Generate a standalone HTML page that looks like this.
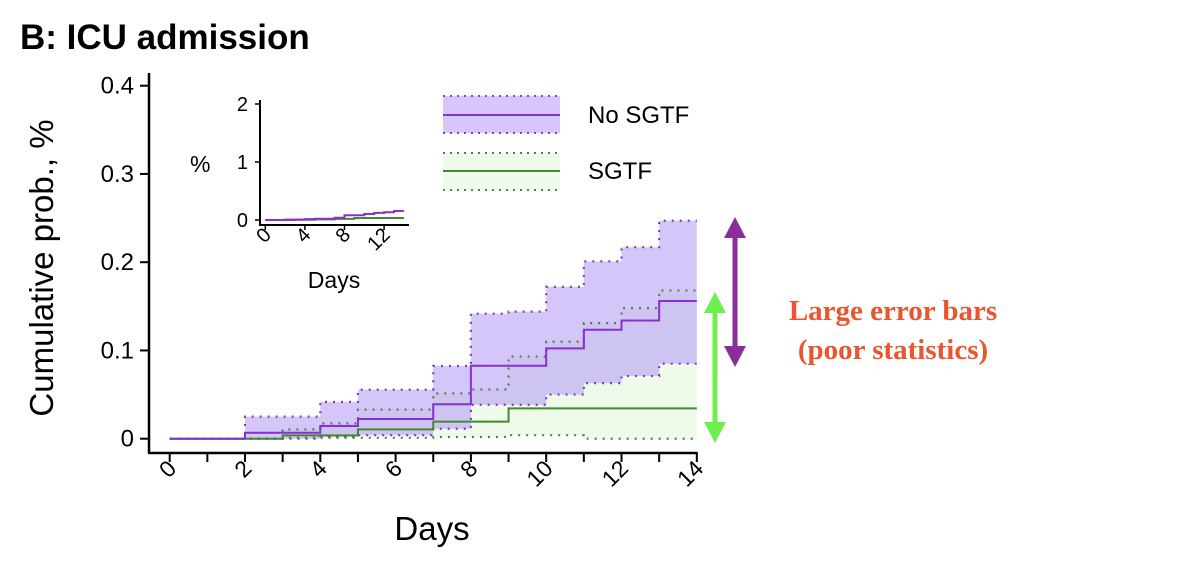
<!DOCTYPE html>
<html><head><meta charset="utf-8"><style>
body{margin:0;background:#fff;width:1200px;height:568px;overflow:hidden;font-family:"Liberation Sans",sans-serif}
</style></head><body>
<svg id="c" width="1200" height="568" xmlns="http://www.w3.org/2000/svg">
<text x="20" y="49" font-size="35" font-weight="bold" font-family="Liberation Sans, sans-serif">B: ICU admission</text>
<g id="main"></g>
<g id="inset"></g>
<g>
<g>
<rect x="443" y="96" width="117" height="37" fill="#d6c6fb"/>
<line x1="443" y1="96" x2="560" y2="96" stroke="#8a3fc8" stroke-width="2" stroke-dasharray="2,5"/>
<line x1="443" y1="133" x2="560" y2="133" stroke="#8a3fc8" stroke-width="2" stroke-dasharray="2,5"/>
<line x1="443" y1="115" x2="560" y2="115" stroke="#8a2fd0" stroke-width="2"/>
<text x="588" y="123" font-size="24">No SGTF</text></g>
<g>
<rect x="443" y="153" width="117" height="37" fill="#eefbea"/>
<line x1="443" y1="153" x2="560" y2="153" stroke="#4a8a3a" stroke-width="2" stroke-dasharray="2,5"/>
<line x1="443" y1="190" x2="560" y2="190" stroke="#4a8a3a" stroke-width="2" stroke-dasharray="2,5"/>
<line x1="443" y1="171" x2="560" y2="171" stroke="#3f8a2f" stroke-width="2"/>
<text x="588" y="179" font-size="24">SGTF</text></g>
</g>
<g>
<line x1="735" y1="232" x2="735" y2="352" stroke="#8a2f9a" stroke-width="5"/>
<polygon points="724,238 735,217 746,238" fill="#8a2f9a"/>
<polygon points="724,346 735,367 746,346" fill="#8a2f9a"/>
</g>
<g>
<line x1="715" y1="308" x2="715" y2="428" stroke="#6fef4f" stroke-width="5"/>
<polygon points="704,313 715,292 726,313" fill="#6fef4f"/>
<polygon points="704,422 715,443 726,422" fill="#6fef4f"/>
</g>
<g font-family="Liberation Serif, serif" font-weight="bold" font-size="29" fill="#ea5530" text-anchor="middle">
<text x="893" y="320">Large error bars</text>
<text x="893" y="359">(poor statistics)</text>
</g>
<text transform="translate(53,268) rotate(-90)" text-anchor="middle" font-size="33">Cumulative prob., %</text>
<text x="432" y="540" text-anchor="middle" font-size="33">Days</text>
</svg>
<script>
const days=[0,1,2,3,4,5,6,7,8,9,10,11,12,13];
const noMean=[0,0,0.0068,0.0068,0.0144,0.0223,0.0223,0.039,0.0827,0.0827,0.1024,0.1235,0.134,0.156];
const noUp=[0,0,0.025,0.025,0.0416,0.0555,0.0555,0.0824,0.1416,0.144,0.172,0.201,0.217,0.247];
const noLo=[0,0,0,0,0.002,0.004,0.004,0.0113,0.0385,0.0385,0.05,0.063,0.071,0.085];
const sMean=[0,0,0,0.0038,0.0038,0.0106,0.0106,0.0193,0.0193,0.0344,0.0344,0.0344,0.0344,0.0344];
const sUp=[0,0,0,0.0106,0.0174,0.033,0.033,0.0514,0.0559,0.093,0.11,0.131,0.148,0.168];
const sLo=[0,0,0,0.001,0.001,0.001,0.001,0.002,0.002,0.004,0.004,0,0,0];
const yTicks=[0,0.1,0.2,0.3,0.4];
const xTickLabels=[0,2,4,6,8,10,12,14];
const insetYTicks=[0,1,2];
const insetXTicks=[0,4,8,12];
const NS="http://www.w3.org/2000/svg";
function mk(p,t,a){const e=document.createElementNS(NS,t);for(const k in a)e.setAttribute(k,a[k]);p.appendChild(e);return e;}
function stepPath(xf,yf,v){let d="M"+xf(0)+","+yf(v[0]);for(let i=0;i<v.length;i++){d+="L"+xf(i+1)+","+yf(v[i]);if(i+1<v.length)d+="L"+xf(i+1)+","+yf(v[i+1]);}return d;}
function bandPath(xf,yf,u,l){let d="M"+xf(0)+","+yf(u[0]);for(let i=0;i<u.length;i++){d+="L"+xf(i+1)+","+yf(u[i]);if(i+1<u.length)d+="L"+xf(i+1)+","+yf(u[i+1]);}for(let i=l.length-1;i>=0;i--){d+="L"+xf(i+1)+","+yf(l[i])+"L"+xf(i)+","+yf(l[i]);}return d+"Z";}
const m=document.getElementById('main');
const X=d=>169.7+d*37.65, Y=v=>438.7-v*882.5;
let e;
e=mk(m,'path',{d:bandPath(X,Y,sUp,sLo),fill:'#eefbea'});


e=mk(m,'path',{d:bandPath(X,Y,noUp,noLo),fill:'#b8a0f5',opacity:'0.6'});


[[noUp,'#7a3fc0'],[noLo,'#7a3fc0'],[sUp,'#5a7a50'],[sLo,'#5a7a50']].forEach(([v,c])=>{
e=mk(m,'path',{d:stepPath(X,Y,v),fill:'none',stroke:c,'stroke-width':2.2,'stroke-dasharray':'2,6'});

});
e=mk(m,'path',{d:stepPath(X,Y,sMean),fill:'none',stroke:'#3f8a2f','stroke-width':2});


e=mk(m,'path',{d:stepPath(X,Y,noMean),fill:'none',stroke:'#8a2fd0','stroke-width':2});


mk(m,'line',{x1:149,y1:73,x2:149,y2:453,stroke:'#000','stroke-width':2.5});
mk(m,'line',{x1:148,y1:453,x2:X(14)+1,y2:453,stroke:'#000','stroke-width':2.5});
yTicks.forEach(t=>{mk(m,'line',{x1:140,y1:Y(t),x2:149,y2:Y(t),stroke:'#000','stroke-width':2});
e=mk(m,'text',{x:134,y:Y(t)+8,'text-anchor':'end','font-size':24});e.textContent=t===0?'0':String(t);

});
for(let d=0;d<=14;d++)mk(m,'line',{x1:X(d),y1:453,x2:X(d),y2:462,stroke:'#000','stroke-width':2});
xTickLabels.forEach(t=>{e=mk(m,'text',{transform:`translate(${X(t)+8},${470}) rotate(-45)`,'text-anchor':'end','font-size':23});e.textContent=t;

});
const g=document.getElementById('inset');
const IX=d=>265.3+d*9.9, IY=v=>220-v*58;
e=mk(g,'path',{d:stepPath(IX,IY,sMean),fill:'none',stroke:'#3f8a2f','stroke-width':2});


e=mk(g,'path',{d:stepPath(IX,IY,noMean),fill:'none',stroke:'#8a2fd0','stroke-width':2});


mk(g,'line',{x1:260,y1:100,x2:260,y2:225,stroke:'#000','stroke-width':2});
mk(g,'line',{x1:259,y1:225,x2:409,y2:225,stroke:'#000','stroke-width':2});
insetYTicks.forEach(t=>{mk(g,'line',{x1:255,y1:IY(t),x2:260,y2:IY(t),stroke:'#000','stroke-width':1.5});
e=mk(g,'text',{x:248,y:IY(t)+7,'text-anchor':'end','font-size':20});e.textContent=t;

});
insetXTicks.forEach(t=>{mk(g,'line',{x1:IX(t),y1:225,x2:IX(t),y2:230,stroke:'#000','stroke-width':1.5});
e=mk(g,'text',{transform:`translate(${IX(t)+7},${236}) rotate(-45)`,'text-anchor':'end','font-size':20});e.textContent=t;

});
e=mk(g,'text',{x:190,y:172,'font-size':23});e.textContent='%';


e=mk(g,'text',{x:334,y:288,'text-anchor':'middle','font-size':23});e.textContent='Days';


</script>
</body></html>
